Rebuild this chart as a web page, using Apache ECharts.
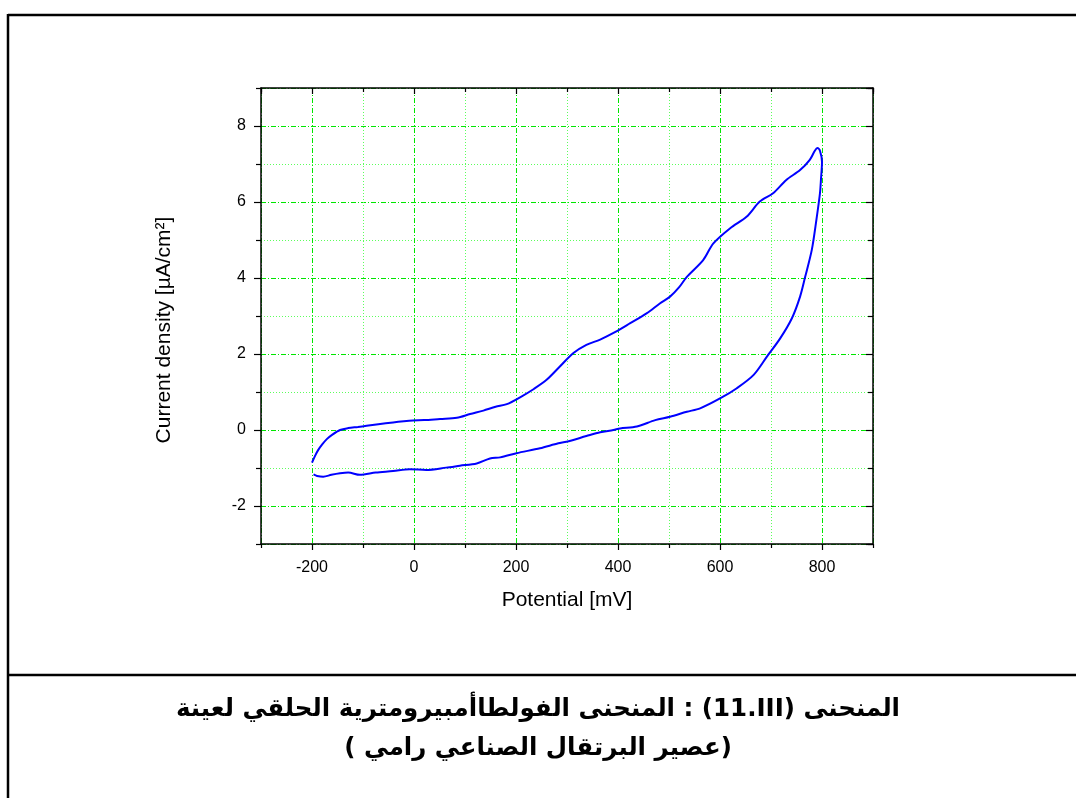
<!DOCTYPE html>
<html>
<head>
<meta charset="utf-8">
<script src="https://cdn.jsdelivr.net/npm/echarts@6/dist/echarts.min.js"></script>
<style>html,body{margin:0;padding:0;background:#fff;}#chart{width:1076px;height:798px;}</style>
</head>
<body>
<div id="chart"></div>
<script>
// Forward (anodic) scan: potential [mV] and current density [µA/cm²]
var forwardPotential = [-200,-194,-188,-180,-171,-160,-145,-129,-110,-93,-70,-41,-20,-2,20,51,84,110,136,160,182,208,235,260,286,312,338,365,395,424,456,482,502,520,535,567,587,620,652,678,704,730,757,776,786,791,796,800];
var forwardCurrent   = [-0.86,-0.68,-0.53,-0.38,-0.24,-0.12,0.0,0.05,0.08,0.11,0.15,0.20,0.23,0.25,0.26,0.29,0.32,0.42,0.51,0.61,0.68,0.86,1.08,1.32,1.67,2.02,2.24,2.38,2.58,2.81,3.07,3.33,3.51,3.76,4.03,4.47,4.91,5.31,5.61,6.01,6.23,6.58,6.84,7.11,7.35,7.42,7.35,7.05];
// Reverse (cathodic) scan
var reversePotential = [800,798,796,789,780,767,757,741,718,692,666,633,600,561,535,502,473,437,404,391,365,338,299,283,247,201,169,149,123,90,63,24,-8,-41,-75,-106,-129,-145,-162,-178,-190,-197];
var reverseCurrent   = [7.05,6.6,6.23,5.53,4.74,4.03,3.51,2.94,2.41,1.93,1.45,1.1,0.83,0.57,0.48,0.35,0.26,0.09,0.04,0.0,-0.06,-0.16,-0.31,-0.35,-0.48,-0.61,-0.72,-0.75,-0.88,-0.94,-0.99,-1.05,-1.03,-1.08,-1.12,-1.18,-1.12,-1.14,-1.18,-1.23,-1.21,-1.17];

var xAxisName = 'Potential [mV]';
var yAxisName = 'Current density [µA/cm²]';
var titleLine1 = 'المنحنى (11.III) : المنحنى الفولطاأمبيرومترية الحلقي لعينة';
var titleLine2 = '(عصير البرتقال الصناعي رامي )';

var data = [];
for (var i = 0; i < forwardPotential.length; i++) data.push([forwardPotential[i], forwardCurrent[i]]);
for (var j = 0; j < reversePotential.length; j++) data.push([reversePotential[j], reverseCurrent[j]]);

// right-to-left embedding for the Arabic caption; Latin/number runs kept left-to-right inside it
function rtl(s) {
  return '\u202B' + s.replace(/([0-9A-Za-z][0-9A-Za-z.]*)/g, '\u202A$1\u202C') + '\u202C';
}

var FONT = '"Liberation Sans", Arial, sans-serif';
var majorGrid = {show: true, lineStyle: {color: '#00e600', width: 1, type: [5, 2, 1, 2]}};
var minorGrid = {show: true, lineStyle: {color: '#5cff5c', width: 1, type: [1, 2]}};
var axisLineStyle = {show: true, onZero: false, lineStyle: {color: '#000', width: 1.5}};
var tickStyle = {color: '#000', width: 1.2};

function xAx(pos, major, labels) {
  var a = {
    type: 'value', position: pos, min: -300, max: 900,
    axisLine: major ? axisLineStyle : {show: false, onZero: false},
    axisTick: {show: true, inside: pos === 'top', length: major ? 6 : 4, lineStyle: tickStyle},
    axisLabel: labels ? {show: true, showMinLabel: false, showMaxLabel: false, fontSize: 16, color: '#000', fontFamily: FONT, margin: 16} : {show: false},
    splitLine: pos === 'bottom' ? (major ? majorGrid : minorGrid) : {show: false}
  };
  if (major) a.splitNumber = 6; else a.interval = 200;
  if (labels) {
    a.name = xAxisName; a.nameLocation = 'middle'; a.nameGap = 46;
    a.nameTextStyle = {fontSize: 21, color: '#000', fontFamily: FONT};
  }
  return a;
}
function yAx(pos, major, labels) {
  var a = {
    type: 'value', position: pos, min: -3, max: 9,
    axisLine: major ? axisLineStyle : {show: false, onZero: false},
    axisTick: {show: true, inside: pos === 'right', length: major ? 7 : 5, lineStyle: tickStyle},
    axisLabel: labels ? {show: true, showMinLabel: false, showMaxLabel: false, fontSize: 16, color: '#000', fontFamily: FONT, margin: 15} : {show: false},
    splitLine: pos === 'left' ? (major ? majorGrid : minorGrid) : {show: false}
  };
  if (major) a.splitNumber = 6; else a.interval = 2;
  if (labels) {
    a.name = yAxisName; a.nameLocation = 'middle'; a.nameGap = 86;
    a.nameTextStyle = {fontSize: 21, color: '#000', fontFamily: FONT, padding: [0, 28, 0, 0]};
  }
  return a;
}

var titleStyle = {fontSize: 24.5, fontWeight: 'bold', color: '#000', fontFamily: '"DejaVu Sans", sans-serif'};

var chart = echarts.init(document.getElementById('chart'), null, {renderer: 'canvas'});
chart.setOption({
  backgroundColor: '#fff',
  animation: false,
  title: [
    {text: rtl(titleLine1), left: 'center', top: 697, padding: 0, textStyle: titleStyle},
    {text: rtl(titleLine2), left: 'center', top: 736, padding: 0, textStyle: titleStyle}
  ],
  grid: {left: 261, top: 88, width: 612, height: 456, containLabel: false},
  xAxis: [xAx('bottom', false, false), xAx('bottom', true, true), xAx('top', true, false), xAx('top', false, false)],
  yAxis: [yAx('left', false, false), yAx('left', true, true), yAx('right', true, false), yAx('right', false, false)],
  series: [{
    type: 'line', xAxisIndex: 1, yAxisIndex: 1, data: data, showSymbol: false, smooth: 0.3,
    lineStyle: {color: '#0000ff', width: 2}, z: 10
  }],
  graphic: [
    {type: 'line', shape: {x1: 8, y1: 15, x2: 1076, y2: 15}, style: {stroke: '#000', lineWidth: 2.5}},
    {type: 'line', shape: {x1: 8, y1: 14, x2: 8, y2: 798}, style: {stroke: '#000', lineWidth: 2.5}},
    {type: 'line', shape: {x1: 8, y1: 675, x2: 1076, y2: 675}, style: {stroke: '#000', lineWidth: 2.5}}
  ]
});
</script>
</body>
</html>
